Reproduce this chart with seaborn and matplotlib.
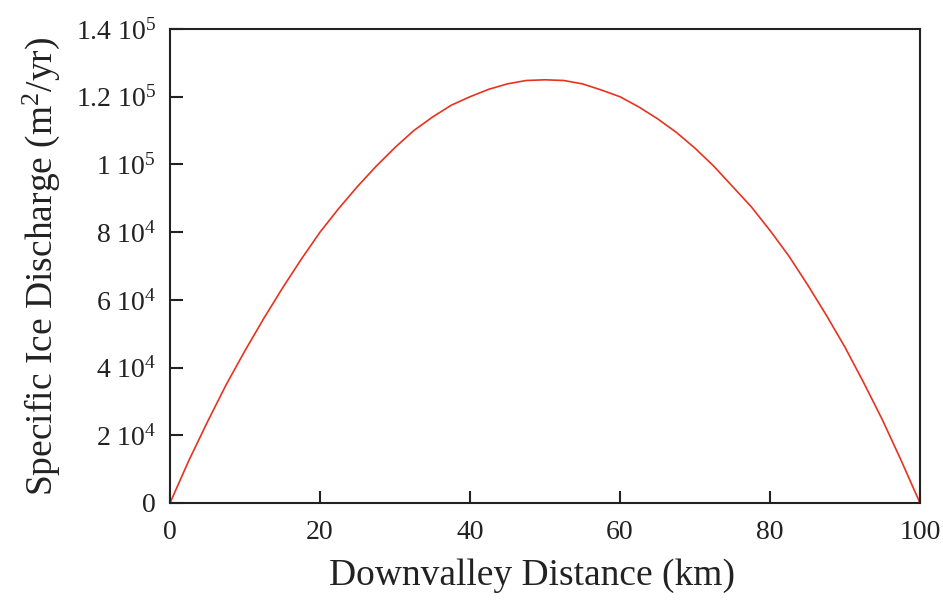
import matplotlib
matplotlib.use("Agg")
import matplotlib.pyplot as plt
import seaborn as sns
import pandas as pd

distance_km = [0, 2.5, 5, 7.5, 10, 12.5, 15, 17.5, 20, 22.5, 25, 27.5, 30,
               32.5, 35, 37.5, 40, 42.5, 45, 47.5, 50, 52.5, 55, 57.5, 60, 62.5,
               65, 67.5, 70, 72.5, 75, 77.5, 80, 82.5, 85, 87.5, 90, 92.5, 95,
               97.5, 100]
discharge = [0, 12500, 24000, 35000, 45000, 54500, 63500, 72000, 80000, 87000,
             93500, 99500, 105000, 110000, 114000, 117500, 120000, 122200,
             123800, 124800, 125000, 124800, 123800, 122000, 120000, 117000,
             113500, 109500, 104800, 99500, 93500, 87500, 80500, 73000, 64500,
             55500, 46000, 35500, 24500, 12500, 0]

y_ticks = [0, 20000, 40000, 60000, 80000, 100000, 120000, 140000]
y_tick_labels = ["0", "2 10$^4$", "4 10$^4$", "6 10$^4$", "8 10$^4$",
                 "1 10$^5$", "1.2 10$^5$", "1.4 10$^5$"]
x_ticks = [0, 20, 40, 60, 80, 100]

sns.set_style("ticks")
plt.rcParams["font.family"] = ["Liberation Serif", "DejaVu Serif"]
plt.rcParams["mathtext.fontset"] = "custom"
plt.rcParams["mathtext.rm"] = "Liberation Serif"
plt.rcParams["mathtext.it"] = "Liberation Serif:italic"

df = pd.DataFrame({"x": distance_km, "y": discharge})

fig = plt.figure(figsize=(9.43, 6.01), dpi=100)
ax = fig.add_axes([0.1803, 0.1631, 0.7953, 0.7886])
sns.lineplot(data=df, x="x", y="y", ax=ax, color="#e8321e", linewidth=1.2)

ax.set_xlim(0, 100)
ax.set_ylim(0, 140000)
ax.set_xticks(x_ticks)
ax.set_xticklabels([str(t) for t in x_ticks])
ax.set_yticks(y_ticks)
ax.set_yticklabels(y_tick_labels)
ax.tick_params(direction="in", length=9, width=1.5, labelsize=20,
               colors="#222222", top=False, right=False)
ax.tick_params(axis="x", pad=12)
ax.tick_params(axis="y", pad=10)
for s in ax.spines.values():
    s.set_linewidth(1.5)
    s.set_color("#222222")
    s.set_visible(True)
ax.set_xlabel("Downvalley Distance (km)", fontsize=27, labelpad=10, color="#222222")
ax.set_ylabel("Specific Ice Discharge (m$^2$/yr)", fontsize=27, labelpad=10, color="#222222")
ax.xaxis.label.set_x(0.483)

fig.savefig("out.png", dpi=100)
